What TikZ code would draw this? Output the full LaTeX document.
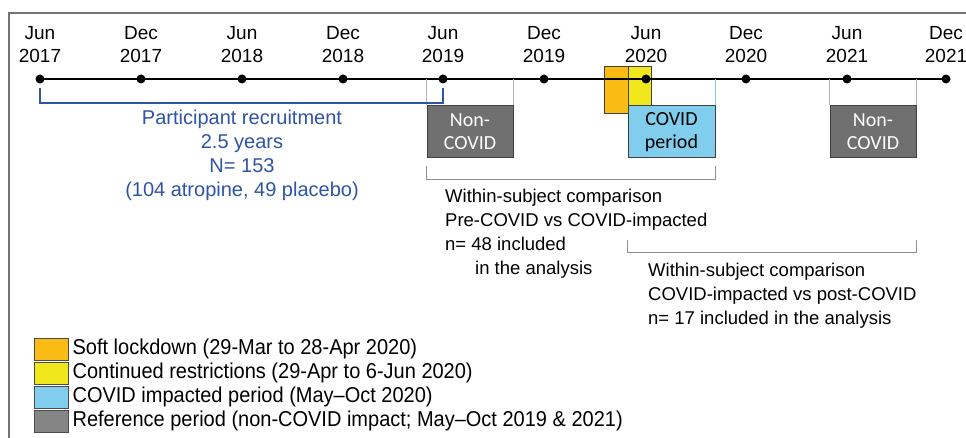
\documentclass[tikz,border=0pt]{standalone}
\usepackage{fontspec}
\setmainfont{Liberation Sans}
\newfontfamily\boxfont{Carlito}
\newfontfamily\narrowfont[FakeStretch=0.93]{Liberation Sans}
\usepackage{tikz}
\usetikzlibrary{positioning,calc}
\definecolor{recblue}{RGB}{46,84,166}
\definecolor{refgray}{RGB}{112,112,112}
\definecolor{covblue}{RGB}{128,205,237}
\definecolor{lockorange}{RGB}{250,188,20}
\definecolor{restyellow}{RGB}{240,232,28}
\definecolor{linegray}{RGB}{178,178,178}

\tikzset{
  dot/.style={circle, fill=black, inner sep=0pt, minimum size=9pt},
  datelabel/.style={align=center, inner sep=0pt, font=\fontsize{19}{23}\selectfont},
  period/.style={draw=black!75, line width=1pt, inner sep=0pt, align=center, font=\boxfont\fontsize{20}{23}\selectfont},
  note/.style={align=left, inner sep=0pt, anchor=north west, font=\fontsize{18.5}{24}\selectfont},
  bracket/.style={linegray!80!black, line width=1pt},
  thinline/.style={linegray, line width=0.9pt},
  legendbox/.style={draw=black!70, line width=0.8pt, minimum width=34pt, minimum height=22pt, inner sep=0pt},
  legendtext/.style={anchor=west, inner sep=0pt, font=\narrowfont\fontsize{21.5}{24}\selectfont}
}

\begin{document}
\begin{tikzpicture}[x=1pt,y=-1pt]
\useasboundingbox (0,0) rectangle (966,438);

% frame
\draw[black!55, line width=1.2pt] (9,438) -- (9,13) -- (966,13);

% lockdown blocks, behind the time line
\node[period, fill=lockorange, minimum width=24pt, minimum height=47pt] (soft) at (616,90.5) {};
\node[period, fill=restyellow, minimum width=23pt, minimum height=40pt] (cont) at (639.5,87) {};

% periods
\node[period, fill=refgray, text=white, minimum width=86pt, minimum height=52pt] (nc19) at (470,132) {Non-\\COVID};
\node[period, fill=covblue, minimum width=87pt, minimum height=52pt] (covid) at (671.5,132) {COVID\\period};
\node[period, fill=refgray, text=white, minimum width=86pt, minimum height=52pt] (nc21) at (873,132) {Non-\\COVID};

% time line
\node[dot] (j17) at (40,79) {};
\node[dot] (d17) at (141,79) {};
\node[dot] (j18) at (242,79) {};
\node[dot] (d18) at (343,79) {};
\node[dot] (j19) at (443,79) {};
\node[dot] (d19) at (544,79) {};
\node[dot] (j20) at (646,79) {};
\node[dot] (d20) at (746,79) {};
\node[dot] (j21) at (847,79) {};
\node[dot] (d21) at (946,79) {};
\draw[line width=2.6pt] (j17.center) -- (d21.center);

\node[datelabel, above=11pt of j17] (tj17) {Jun\\2017};
\node[datelabel, above=11pt of d17] (td17) {Dec\\2017};
\node[datelabel, above=11pt of j18] (tj18) {Jun\\2018};
\node[datelabel, above=11pt of d18] (td18) {Dec\\2018};
\node[datelabel, above=11pt of j19] (tj19) {Jun\\2019};
\node[datelabel, above=11pt of d19] (td19) {Dec\\2019};
\node[datelabel, above=11pt of j20] (tj20) {Jun\\2020};
\node[datelabel, above=11pt of d20] (td20) {Dec\\2020};
\node[datelabel, above=11pt of j21] (tj21) {Jun\\2021};
\node[datelabel, above=11pt of d21] (td21) {Dec\\2021};

% ticks down to the periods
\draw[thinline] (nc19.north west |- j19) -- (nc19.north west);
\draw[thinline] (nc19.north east |- j19) -- (nc19.north east);
\draw[covblue, line width=0.9pt] (covid.north east |- j19) -- (covid.north east);
\draw[thinline] (nc21.north west |- j19) -- (nc21.north west);
\draw[thinline] (nc21.north east |- j19) -- (nc21.north east);

% recruitment
\draw[recblue, line width=1.2pt] ($(j17)+(0,9)$) -- ++(0,15) -| ($(j19)+(0,9)$);
\node[datelabel, text=recblue, font=\fontsize{20}{24}\selectfont] (rec) at (242,155.5) {Participant recruitment\\2.5 years\\N= 153\\(104 atropine, 49 placebo)};

% comparisons
\draw[bracket] ($(nc19.south west)+(0,8)$) -- ++(0,13) -| ($(covid.south east)+(0,8)$);
\node[note] (cmp1) at (445,189) {Within-subject comparison\\Pre-COVID vs COVID-impacted\\n= 48 included\\\hspace*{30pt}in the analysis};

\draw[bracket] ($(covid.south west)+(0,82)$) -- ++(0,12) -| ($(nc21.south east)+(0,82)$);
\node[note] (cmp2) at (648,263) {Within-subject comparison\\COVID-impacted vs post-COVID\\n= 17 included in the analysis};

% legend
\node[legendbox, fill=lockorange] (lg1) at (51,349) {};
\node[legendbox, fill=restyellow] (lg2) at (51,373) {};
\node[legendbox, fill=covblue] (lg3) at (51,397) {};
\node[legendbox, fill=refgray!85!white] (lg4) at (51,421) {};
\node[legendtext, right=4pt of lg1] (lt1) {Soft lockdown (29-Mar to 28-Apr 2020)};
\node[legendtext, right=4pt of lg2] (lt2) {Continued restrictions (29-Apr to 6-Jun 2020)};
\node[legendtext, right=4pt of lg3] (lt3) {COVID impacted period (May–Oct 2020)};
\node[legendtext, right=4pt of lg4] (lt4) {Reference period (non-COVID impact; May–Oct 2019 \& 2021)};

\end{tikzpicture}
\end{document}
